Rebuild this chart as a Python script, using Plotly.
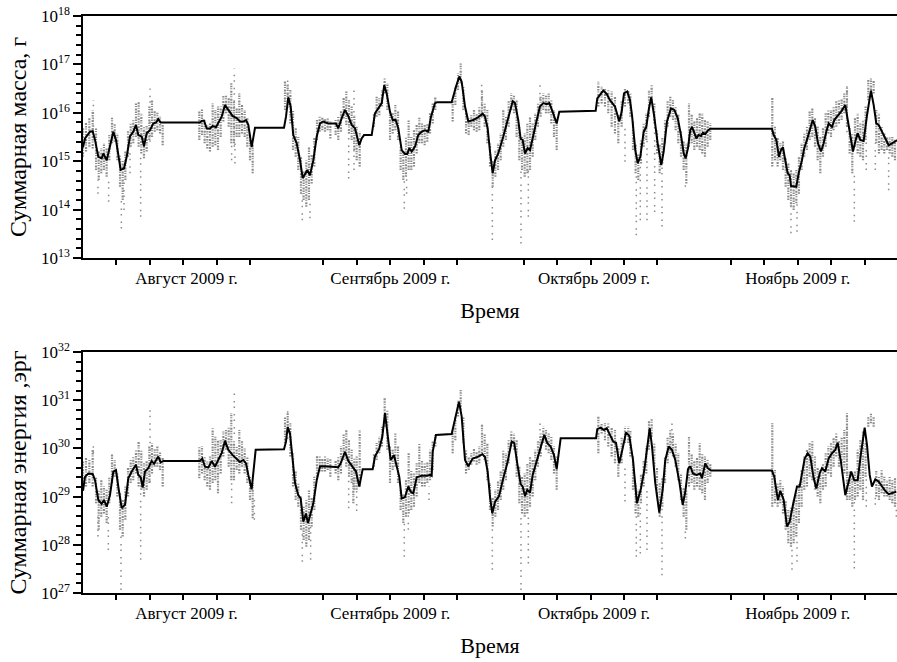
import numpy as np
import pandas as pd
import plotly.graph_objects as go

START = pd.Timestamp("2009-08-01")
X_END_DAYS = 121.86
FONT = "Liberation Serif, Times New Roman, serif"

# ---------------- data (days since 2009-08-01, log10 values) ----------------
mass_line_day = [0.0, 0.30, 1.05, 1.45, 1.80, 2.29, 2.80, 3.04, 3.55, 4.04, 4.54, 4.94, 5.28, 5.64, 6.14, 6.54, 7.04, 7.53, 7.93, 8.28, 8.79, 9.13, 9.54, 10.03, 10.52, 10.93, 11.27, 11.63,
                 17.51, 17.77, 18.11, 18.52, 19.01, 19.42, 19.91, 20.40, 20.76, 21.26, 21.75, 22.41, 23.01, 23.50, 24.00, 24.40, 24.75, 25.25, 25.75,
                 30.09, 30.39, 30.73, 31.09, 31.48, 31.99, 32.49, 32.89, 33.23, 33.58, 33.98, 34.48, 34.99, 35.48, 35.97, 36.72, 37.87, 38.22, 38.73, 39.22, 39.72, 40.22, 40.72, 41.36, 41.72, 42.07, 43.22, 43.71, 44.21, 44.72, 45.10, 45.46, 45.96, 46.36, 46.81, 47.20, 47.71, 48.20, 48.55, 48.85, 49.21, 49.70, 50.19, 50.70, 51.20, 51.69, 52.10, 52.69, 53.04,
                 55.19, 55.84, 56.33, 56.69, 57.19, 57.68, 58.43, 59.18, 59.84, 60.18, 60.58, 60.93, 61.33, 61.68, 62.17, 62.92, 63.67, 64.33, 64.67, 65.16, 65.52, 65.82, 66.17, 66.57, 66.92, 67.32, 67.81, 68.41, 68.91, 69.42, 69.81, 70.31, 70.91, 71.30,
                 76.75, 76.99, 77.50, 77.89, 78.40, 78.89, 79.64, 80.28, 80.64, 80.99, 81.48, 81.89, 82.19, 82.68, 83.04, 83.43, 83.94, 84.33, 84.69, 85.07, 85.52, 86.03, 86.57, 86.93, 87.43, 88.02, 88.52, 89.03, 89.52, 89.93, 90.22, 90.57, 90.91, 91.17, 91.51, 91.81, 92.16, 92.51, 92.81, 93.16, 93.52, 93.91,
                 103.14, 103.40, 103.79, 104.19, 104.49, 104.79, 105.13, 105.49, 105.79, 105.99, 106.78, 107.14, 107.63, 107.98, 108.38, 108.79, 109.24, 109.63, 110.03, 110.48, 110.88, 111.27, 111.63, 112.13, 112.47, 112.87, 113.47, 114.12, 114.52, 114.87, 115.27, 115.61, 115.97, 116.36, 116.87, 117.37, 117.96, 118.37, 118.76, 119.12, 119.61, 120.10, 120.61, 121.11, 121.60, 122.0]
mass_line_log = [15.29, 15.47, 15.61, 15.62, 15.44, 15.09, 15.06, 15.16, 15.02, 15.30, 15.61, 15.44, 15.09, 14.82, 14.85, 15.09, 15.52, 15.61, 15.75, 15.54, 15.51, 15.31, 15.58, 15.64, 15.78, 15.80, 15.87, 15.80,
                 15.80, 15.83, 15.84, 15.68, 15.67, 15.73, 15.70, 15.82, 15.92, 16.16, 16.07, 15.93, 15.89, 15.82, 15.82, 15.85, 15.75, 15.29, 15.69,
                 15.69, 15.92, 16.32, 16.13, 15.54, 15.37, 15.02, 14.65, 14.75, 14.82, 14.71, 15.02, 15.51, 15.78, 15.82, 15.78, 15.78, 15.68, 15.89, 16.06, 15.93, 15.75, 15.68, 15.33, 15.47, 15.54, 15.54, 15.99, 16.09, 16.20, 16.57, 16.40, 16.02, 15.85, 15.85, 15.68, 15.23, 15.15, 15.15, 15.27, 15.20, 15.30, 15.54, 15.61, 15.64, 15.61, 15.92, 16.20, 16.22,
                 16.22, 16.54, 16.75, 16.64, 16.13, 15.82, 15.85, 15.91, 15.98, 15.92, 15.68, 15.20, 14.75, 15.02, 15.16, 15.51, 15.92, 16.24, 16.20, 15.85, 15.46, 15.44, 15.16, 15.27, 15.23, 15.51, 15.78, 16.13, 16.20, 16.18, 16.20, 16.02, 15.78, 16.02,
                 16.04, 16.30, 16.40, 16.46, 16.39, 16.26, 16.13, 15.82, 16.02, 16.40, 16.44, 16.26, 15.95, 15.23, 14.96, 15.09, 15.61, 15.71, 16.06, 16.32, 15.92, 15.37, 14.92, 15.20, 15.82, 16.09, 16.06, 15.89, 15.54, 15.16, 15.06, 15.27, 15.64, 15.71, 15.59, 15.47, 15.54, 15.52, 15.59, 15.56, 15.63, 15.67,
                 15.67, 15.54, 15.44, 15.09, 15.23, 15.29, 15.02, 14.75, 14.71, 14.49, 14.47, 14.75, 15.02, 15.27, 15.44, 15.64, 15.85, 15.71, 15.37, 15.20, 15.37, 15.61, 15.78, 15.71, 15.85, 15.92, 16.02, 16.16, 15.82, 15.47, 15.20, 15.40, 15.58, 15.44, 15.42, 15.95, 16.46, 16.16, 15.78, 15.75, 15.61, 15.47, 15.33, 15.37, 15.40, 15.44]

energy_line_day = [0.0, 0.30, 0.79, 1.45, 1.80, 2.29, 2.80, 3.14, 3.55, 4.04, 4.54, 4.94, 5.28, 5.79, 6.29, 6.78, 7.29, 7.93, 8.28, 8.64, 8.94, 9.28, 9.78, 10.28, 10.63, 11.03, 11.27, 11.63, 12.02,
                   17.51, 17.86, 18.26, 18.76, 19.27, 19.76, 20.25, 20.76, 21.26, 21.75, 22.41, 23.01, 23.50, 24.00, 24.40, 24.75, 25.25, 25.85,
                   30.09, 30.39, 30.64, 30.99, 31.39, 31.74, 32.23, 32.59, 32.98, 33.38, 33.68, 34.09, 34.48, 34.99, 35.48, 36.23, 37.47, 38.22, 38.58, 39.22, 39.72, 40.37, 40.87, 41.36, 41.87, 43.37, 43.71, 44.36, 44.81, 45.21, 45.55, 46.06, 46.56, 46.96, 47.35, 47.71, 48.20, 48.70, 49.06, 49.45, 49.96, 50.70, 51.45, 51.95, 52.20, 52.35, 52.84,
                   55.19, 55.84, 56.29, 56.69, 57.19, 57.68, 58.34, 59.18, 59.78, 60.18, 60.58, 60.93, 61.27, 61.68, 62.28, 62.92, 63.52, 64.18, 64.57, 65.01, 65.52, 65.82, 66.17, 66.51, 66.92, 67.32, 67.92, 68.41, 69.06, 69.51, 70.01, 70.51, 70.91, 71.51,
                   76.80, 76.99, 77.50, 78.00, 78.40, 78.89, 79.39, 79.79, 80.28, 80.79, 81.29, 81.78, 82.34, 82.93, 83.53, 84.03, 84.54, 84.84, 85.18, 85.67, 86.27, 86.78, 87.17, 87.68, 88.17, 88.67, 89.27, 89.78, 90.17, 90.57, 90.91, 91.32, 91.81, 92.41, 92.66, 93.16, 93.52, 94.01,
                   103.14, 103.49, 103.79, 104.04, 104.39, 104.90, 105.39, 105.79, 106.29, 106.89, 107.29, 107.63, 108.04, 108.49, 108.88, 109.39, 109.78, 110.28, 110.63, 111.12, 111.63, 112.13, 112.62, 112.98, 113.47, 114.12, 114.63, 115.01, 115.46, 115.97, 116.47, 117.02, 117.37, 117.77, 118.11, 118.61, 119.12, 119.61, 120.10, 120.61, 121.11, 121.75]
energy_line_log = [29.12, 29.41, 29.48, 29.47, 29.34, 28.93, 28.85, 28.93, 28.79, 29.03, 29.52, 29.55, 29.21, 28.76, 28.83, 29.38, 29.52, 29.66, 29.45, 29.40, 29.19, 29.52, 29.59, 29.74, 29.68, 29.79, 29.83, 29.71, 29.74,
                   29.74, 29.79, 29.62, 29.60, 29.74, 29.62, 29.76, 29.90, 30.16, 29.97, 29.86, 29.79, 29.72, 29.76, 29.69, 29.45, 29.15, 29.97,
                   29.98, 30.14, 30.44, 30.31, 29.69, 29.28, 29.03, 28.96, 28.48, 28.65, 28.45, 28.65, 28.86, 29.34, 29.63, 29.63, 29.61, 29.61, 29.69, 29.93, 29.74, 29.61, 29.52, 29.21, 29.57, 29.57, 29.83, 30.00, 30.24, 30.73, 30.31, 29.76, 29.86, 29.66, 29.41, 28.96, 28.99, 29.21, 29.10, 29.07, 29.40, 29.43, 29.43, 29.45, 29.43, 29.93, 30.28,
                   30.30, 30.66, 30.97, 30.66, 29.76, 29.63, 29.79, 29.83, 29.88, 29.82, 29.52, 29.00, 28.65, 28.89, 29.01, 29.38, 29.69, 30.14, 30.11, 29.69, 29.26, 29.21, 29.01, 29.14, 29.08, 29.45, 29.76, 29.97, 30.28, 30.11, 30.04, 29.86, 29.57, 30.21,
                   30.21, 30.40, 30.43, 30.38, 30.42, 30.28, 30.14, 30.12, 29.69, 30.00, 30.33, 30.26, 29.76, 28.86, 29.17, 29.55, 30.07, 30.42, 30.04, 29.28, 28.67, 29.14, 29.76, 30.04, 29.97, 29.76, 29.31, 28.83, 29.10, 29.57, 29.63, 29.48, 29.45, 29.48, 29.38, 29.69, 29.59, 29.54,
                   29.54, 29.41, 29.14, 28.93, 29.12, 28.93, 28.38, 28.48, 28.83, 29.21, 29.21, 29.48, 29.79, 29.90, 29.83, 29.38, 29.17, 29.48, 29.59, 29.52, 29.79, 29.90, 29.97, 30.12, 29.72, 29.03, 29.34, 29.52, 29.34, 29.34, 29.90, 30.43, 30.07, 29.45, 29.21, 29.36, 29.31, 29.21, 29.12, 29.05, 29.07, 29.10]

# gray scatter clouds: dense core (day, low, high) in log10
mass_cloud_day = [0.0, 0.45, 0.95, 1.45, 1.95, 2.35, 2.74, 3.14, 3.54, 3.94, 4.34, 4.74, 5.14, 5.54, 5.94, 6.34, 6.74, 7.14, 7.53, 7.93, 8.33, 8.73, 9.13, 9.53, 9.93, 10.33, 10.73, 11.13, 11.53, 11.93,
                  17.41, 17.81, 18.21, 18.61, 19.01, 19.41, 19.81, 20.21, 20.61, 21.01, 21.41, 21.81, 22.20, 22.60, 23.00, 23.40, 23.80, 24.20, 24.60, 25.00, 25.40,
                  30.24, 30.64, 31.04, 31.44, 31.84, 32.23, 32.63, 33.03, 33.43, 33.83, 34.23, 34.63, 35.03, 35.43, 35.83, 36.23, 36.63, 37.03, 37.82, 38.22, 38.62, 39.02, 39.42, 39.82, 40.22, 40.62, 40.97, 41.42,
                  43.56, 43.96, 44.36, 44.76, 45.16, 45.56, 45.96, 46.36, 46.76, 47.16, 47.55, 47.95, 48.35, 48.75, 49.15, 49.55, 49.95, 50.35, 50.75, 51.15, 51.55, 51.95, 52.35, 52.74,
                  55.34, 55.74, 56.14, 56.54, 56.94, 57.34, 57.74, 58.13, 58.53, 58.93, 59.33, 59.73, 60.13, 60.53, 60.93, 61.33, 61.73, 62.13, 62.53, 62.92, 63.32, 63.72, 64.12, 64.52, 64.92, 65.32, 65.72, 66.12, 66.52, 66.92, 67.32, 67.71, 68.11, 68.51, 68.91, 69.31, 69.71, 70.11, 70.51, 70.91,
                  77.15, 77.64, 78.14, 78.64, 79.14, 79.64, 80.14, 80.64, 81.14, 81.63, 81.94, 82.34, 82.73, 83.13, 83.53, 83.93, 84.33, 84.73, 85.13, 85.53, 85.93, 86.33, 86.73, 87.13, 87.52, 87.92, 88.32, 88.72, 89.12, 89.52, 89.92, 90.32, 90.72, 91.12, 91.52, 91.92, 92.32, 92.71, 93.11, 93.51, 93.91,
                  103.19, 103.59, 103.99, 104.39, 104.79, 105.19, 105.59, 105.99, 106.39, 106.79, 107.18, 107.58, 107.98, 108.38, 108.78, 109.18, 109.58, 109.98, 110.38, 110.78, 111.18, 111.58, 111.98, 112.37, 112.77, 113.17, 113.57, 113.97, 114.37, 114.77, 115.17, 115.57, 115.97, 116.37, 116.77, 117.16, 117.56, 117.96, 118.36, 118.76, 119.16, 119.56, 119.96, 120.36, 120.76, 121.16, 121.56]
mass_cloud_lo = [15.09, 15.20, 15.30, 15.26, 14.82, 14.61, 14.75, 14.82, 14.68, 15.02, 15.37, 15.40, 15.02, 14.47, 14.20, 14.61, 15.09, 15.30, 15.37, 15.50, 15.30, 15.16, 15.06, 15.20, 15.44, 15.50, 15.61, 15.64, 15.57, 15.33,
                 15.44, 15.54, 15.37, 15.26, 15.20, 15.30, 15.33, 15.23, 15.50, 15.82, 15.99, 15.71, 15.37, 15.37, 15.50, 15.50, 15.57, 15.50, 15.30, 15.02, 14.75,
                 16.06, 16.16, 15.78, 15.23, 15.09, 14.82, 14.33, 14.20, 14.06, 14.20, 14.54, 14.89, 15.44, 15.61, 15.64, 15.61, 15.64, 15.47, 15.54, 15.44, 15.61, 15.88, 15.75, 15.57, 15.44, 15.23, 15.02, 14.89,
                 15.71, 15.92, 15.95, 16.13, 16.40, 16.06, 15.44, 15.57, 15.64, 15.44, 14.82, 14.61, 14.68, 14.82, 14.82, 14.89, 15.16, 15.37, 15.37, 15.33, 15.40, 15.57, 15.78, 16.06,
                 15.82, 16.16, 16.47, 16.61, 16.06, 15.57, 15.54, 15.71, 15.64, 15.61, 15.64, 15.92, 15.71, 15.37, 14.89, 14.47, 14.68, 14.82, 15.02, 15.30, 15.44, 15.71, 16.06, 15.99, 15.50, 15.02, 14.82, 14.68, 14.75, 14.82, 15.09, 15.44, 15.71, 15.92, 16.06, 15.99, 15.99, 15.78, 15.50, 15.23,
                 16.13, 16.19, 16.13, 15.99, 15.71, 15.57, 15.37, 15.71, 16.13, 16.19, 15.92, 15.23, 14.75, 14.61, 14.95, 15.30, 15.44, 15.92, 16.26, 15.78, 15.16, 14.75, 14.95, 15.37, 15.71, 15.92, 15.85, 15.64, 15.37, 15.09, 14.82, 14.54, 15.30, 15.37, 15.23, 15.30, 15.23, 15.16, 15.09, 15.30, 15.44,
                 14.89, 15.02, 14.89, 15.02, 14.82, 14.47, 14.20, 14.06, 13.99, 14.13, 14.33, 14.82, 15.09, 15.23, 15.44, 15.50, 15.30, 15.02, 14.75, 15.09, 15.30, 15.57, 15.50, 15.64, 15.71, 15.78, 15.85, 15.99, 15.71, 15.16, 14.75, 15.30, 15.16, 15.09, 15.02, 15.44, 16.26, 16.47, 16.40, 15.37, 15.16, 15.23, 15.16, 15.23, 15.16, 15.09, 15.02]
mass_cloud_hi = [15.71, 15.82, 15.92, 16.06, 15.68, 15.23, 15.26, 15.37, 15.26, 15.54, 15.92, 15.78, 15.57, 15.13, 15.02, 15.23, 15.64, 15.78, 15.85, 16.19, 16.23, 15.99, 15.71, 15.75, 16.13, 16.26, 16.06, 16.02, 15.92, 15.75,
                 16.06, 16.09, 15.85, 15.75, 15.78, 16.19, 16.06, 16.13, 16.13, 16.37, 16.37, 16.33, 16.61, 16.26, 16.09, 16.40, 16.19, 16.06, 15.92, 15.57, 15.37,
                 16.68, 16.61, 16.47, 16.06, 15.71, 15.50, 15.09, 14.82, 15.02, 15.30, 15.16, 15.50, 15.85, 15.92, 15.92, 15.88, 15.88, 15.82, 15.85, 15.92, 16.06, 16.33, 16.44, 16.26, 16.13, 15.95, 15.71, 15.61,
                 15.99, 16.33, 16.30, 16.47, 16.71, 16.61, 16.06, 15.99, 16.16, 16.06, 15.30, 15.23, 15.50, 15.85, 15.50, 15.64, 15.78, 15.92, 15.78, 15.75, 15.78, 15.99, 16.19, 16.33,
                 16.26, 16.54, 16.81, 17.02, 16.54, 16.06, 15.88, 15.95, 16.06, 15.99, 16.13, 16.47, 16.19, 16.06, 15.37, 15.02, 15.23, 15.37, 15.57, 16.06, 15.92, 16.26, 16.40, 16.37, 16.26, 15.71, 15.50, 15.57, 15.78, 15.92, 15.78, 15.99, 16.19, 16.33, 16.40, 16.37, 16.40, 16.26, 16.06, 15.85,
                 16.64, 16.54, 16.50, 16.47, 16.44, 16.33, 15.99, 16.26, 16.50, 16.47, 16.40, 15.85, 15.37, 15.16, 15.44, 15.78, 15.99, 16.47, 16.57, 16.19, 15.64, 15.37, 15.50, 15.85, 16.26, 16.33, 16.26, 16.13, 15.99, 15.64, 15.44, 15.37, 16.19, 15.99, 15.85, 15.92, 15.99, 15.99, 15.85, 15.82, 15.78,
                 16.33, 15.71, 15.50, 15.37, 15.44, 15.09, 14.95, 14.82, 14.75, 14.82, 15.09, 15.37, 15.57, 15.71, 16.06, 16.09, 15.92, 15.71, 15.50, 15.71, 15.99, 16.06, 16.06, 16.13, 16.26, 16.26, 16.30, 16.40, 16.54, 15.71, 15.57, 15.92, 15.99, 15.78, 15.85, 16.13, 16.68, 16.71, 16.68, 16.06, 15.99, 15.71, 15.57, 15.50, 15.50, 15.50, 15.47]

# sparse tails of the gray scatter (day, low, high) in log10
mass_tail_day = [1.55, 2.24, 3.84, 5.74, 6.14, 7.04, 8.63, 10.03, 22.25, 22.65, 22.75, 30.64, 32.83, 33.98, 39.77, 40.57, 48.10, 48.45, 59.68, 61.28, 65.57, 66.67, 68.41, 81.14, 82.83, 83.43, 84.43, 85.58, 86.68, 90.17, 105.99, 106.89, 114.37, 115.47, 117.26, 118.61, 120.61]
mass_tail_lo = [15.60, 14.33, 14.16, 13.61, 13.99, 14.75, 13.85, 15.40, 15.02, 15.30, 14.95, 16.10, 13.78, 13.82, 14.64, 14.82, 14.02, 14.33, 15.90, 13.37, 13.30, 13.85, 16.00, 14.99, 13.47, 13.78, 13.78, 13.95, 13.65, 14.47, 13.51, 13.54, 15.60, 13.75, 14.82, 14.82, 14.40]
mass_tail_hi = [16.26, 14.61, 14.68, 14.20, 14.61, 15.30, 15.16, 16.50, 15.37, 16.92, 15.37, 16.75, 14.33, 14.20, 15.57, 16.47, 14.61, 14.68, 16.61, 14.47, 14.82, 14.82, 16.57, 15.71, 14.75, 14.95, 15.44, 15.78, 14.95, 14.54, 14.06, 14.13, 16.57, 14.75, 15.44, 15.37, 15.16]

energy_cloud_day = mass_cloud_day[:78] + [40.47] + mass_cloud_day[78:]
energy_cloud_lo = [29.14, 29.21, 29.28, 29.21, 28.86, 28.31, 28.58, 28.65, 28.45, 28.86, 29.28, 29.41, 29.00, 28.31, 28.17, 28.52, 29.00, 29.28, 29.34, 29.48, 29.21, 29.14, 29.00, 29.14, 29.28, 29.48, 29.62, 29.62, 29.55, 29.21,
                   29.38, 29.48, 29.34, 29.21, 29.14, 29.28, 29.34, 29.07, 29.48, 29.83, 29.97, 29.62, 29.34, 29.34, 29.55, 29.48, 29.62, 29.48, 29.28, 28.93, 28.55,
                   30.11, 30.31, 29.83, 29.21, 28.93, 28.79, 28.31, 28.10, 27.96, 28.10, 28.38, 28.72, 29.41, 29.52, 29.52, 29.52, 29.55, 29.41, 29.48, 29.34, 29.48, 29.76, 29.62, 29.41, 29.28, 29.14, 29.14, 28.86,
                   29.21,
                   29.62, 29.76, 29.90, 30.04, 30.45, 29.97, 29.28, 29.55, 29.62, 29.28, 28.72, 28.45, 28.58, 28.65, 28.72, 28.79, 29.00, 29.28, 29.21, 29.21, 29.28, 29.34, 29.55, 30.04,
                   29.90, 30.17, 30.66, 30.80, 30.11, 29.48, 29.55, 29.66, 29.73, 29.66, 29.69, 29.90, 29.76, 29.34, 28.72, 28.38, 28.58, 28.72, 28.93, 29.14, 29.34, 29.69, 30.04, 29.97, 29.41, 28.86, 28.65, 28.58, 28.65, 28.79, 29.00, 29.34, 29.62, 29.83, 30.11, 29.97, 29.90, 29.76, 29.48, 29.14,
                   29.90, 30.31, 30.17, 30.04, 29.83, 29.69, 29.41, 29.69, 30.11, 30.11, 29.83, 29.14, 28.65, 28.58, 28.86, 29.21, 29.48, 29.97, 30.24, 29.62, 29.00, 28.58, 28.79, 29.28, 29.69, 29.90, 29.83, 29.62, 29.34, 28.93, 28.58, 28.31, 29.21, 29.28, 29.14, 29.21, 29.14, 29.07, 28.93, 29.28, 29.41,
                   28.79, 28.86, 28.79, 28.86, 28.65, 28.31, 28.03, 27.96, 28.03, 28.17, 28.45, 28.79, 29.14, 29.21, 29.41, 29.34, 29.14, 29.00, 28.86, 29.14, 29.21, 29.48, 29.41, 29.62, 29.83, 29.62, 29.69, 29.48, 28.93, 28.93, 28.79, 28.93, 29.00, 29.14, 28.93, 29.41, 30.45, 30.52, 30.45, 29.00, 28.93, 29.07, 29.00, 29.00, 28.93, 28.86, 28.79]
energy_cloud_hi = [29.73, 29.83, 29.76, 29.97, 29.41, 29.14, 29.34, 29.21, 29.14, 29.41, 29.90, 29.76, 29.48, 29.07, 28.93, 29.21, 29.62, 29.76, 29.83, 29.97, 30.14, 29.97, 29.69, 29.76, 30.04, 30.11, 30.00, 30.04, 29.93, 29.83,
                   30.04, 30.04, 29.83, 29.73, 29.83, 30.42, 30.24, 30.17, 30.17, 30.35, 30.38, 30.45, 30.73, 30.17, 30.04, 30.38, 30.17, 30.00, 29.83, 29.41, 29.28,
                   30.66, 30.73, 30.52, 29.90, 29.55, 29.28, 29.00, 28.79, 28.93, 29.14, 29.00, 29.41, 29.86, 29.83, 29.79, 29.83, 29.79, 29.79, 29.76, 29.83, 30.04, 30.31, 30.38, 30.17, 29.97, 29.79, 29.83, 29.41,
                   30.38,
                   29.90, 30.11, 30.24, 30.45, 31.04, 30.80, 30.04, 29.97, 30.31, 30.04, 29.14, 29.07, 29.34, 29.90, 29.55, 29.48, 29.69, 30.11, 29.76, 29.69, 29.73, 29.97, 30.17, 30.28,
                   30.38, 30.66, 31.00, 31.21, 30.66, 29.97, 29.83, 29.90, 30.00, 29.93, 30.04, 30.52, 30.31, 30.11, 29.28, 29.00, 29.14, 29.34, 29.55, 29.97, 29.90, 30.17, 30.35, 30.31, 30.17, 29.62, 29.41, 29.48, 29.69, 29.83, 29.76, 29.97, 30.17, 30.31, 30.45, 30.38, 30.31, 30.24, 30.04, 29.83,
                   30.66, 30.52, 30.52, 30.52, 30.45, 30.38, 30.04, 30.24, 30.45, 30.45, 30.38, 29.83, 29.28, 29.14, 29.48, 29.76, 30.04, 30.59, 30.62, 30.11, 29.62, 29.28, 29.41, 29.83, 30.24, 30.38, 30.31, 30.11, 29.90, 29.48, 29.21, 29.14, 30.24, 29.90, 29.76, 29.83, 30.11, 29.90, 29.83, 29.76, 29.69,
                   30.52, 29.55, 29.28, 29.34, 29.21, 28.93, 28.72, 28.79, 28.93, 29.07, 29.28, 29.55, 29.83, 29.97, 30.11, 30.17, 29.83, 29.62, 29.55, 29.69, 29.90, 30.04, 30.11, 30.24, 30.31, 30.17, 30.24, 30.38, 30.73, 29.55, 29.48, 29.55, 29.97, 30.17, 30.38, 30.11, 30.66, 30.73, 30.66, 29.55, 29.41, 29.55, 29.41, 29.34, 29.41, 29.34, 29.41]

energy_tail_day = [1.55, 2.24, 3.79, 5.69, 8.63, 10.03, 22.25, 22.65, 25.65, 30.64, 32.83, 34.08, 39.77, 40.97, 48.10, 48.70, 51.80, 61.28, 65.57, 66.67, 68.41, 81.14, 82.83, 83.43, 84.43, 86.68, 88.17, 90.17, 106.14, 106.89, 114.37, 115.47, 117.26, 118.61, 121.76]
energy_tail_lo = [29.90, 28.17, 27.89, 27.06, 27.69, 29.30, 28.86, 30.30, 28.52, 30.20, 27.65, 27.69, 28.76, 28.70, 27.75, 28.31, 28.93, 27.48, 27.06, 27.61, 30.10, 28.90, 27.75, 27.82, 27.89, 27.37, 30.10, 28.13, 27.48, 27.65, 29.20, 27.51, 28.79, 28.83, 28.58]
energy_tail_hi = [30.14, 28.65, 28.58, 28.17, 29.14, 30.87, 29.34, 31.21, 28.93, 30.83, 28.31, 28.38, 29.41, 29.14, 28.45, 28.65, 29.21, 28.38, 28.65, 28.65, 30.59, 29.69, 28.65, 28.86, 29.21, 28.79, 30.52, 28.31, 27.96, 28.17, 30.80, 28.93, 29.41, 29.00, 28.86]

month_starts = ["2009-08-01", "2009-09-01", "2009-10-01", "2009-11-01", "2009-12-01"]
month_mids = ["2009-08-16 12:00", "2009-09-16", "2009-10-16 12:00", "2009-11-16"]
month_labels = ["Август 2009 г.", "Сентябрь 2009 г.", "Октябрь 2009 г.", "Ноябрь 2009 г."]
minor_days_of_month = [6, 11, 16, 21, 26]

mass_decades = [13, 14, 15, 16, 17, 18]
energy_decades = [27, 28, 29, 30, 31, 32]


# ---------------- helpers ----------------
def to_dates(days):
    return list((START + pd.to_timedelta(np.asarray(days, dtype=float), unit="D")).to_pydatetime())


def segments(days, lo, hi):
    xs, ys = [], []
    for d, a, b in zip(to_dates(days), lo, hi):
        xs += [d, d, None]
        ys += [10.0 ** a, 10.0 ** b, None]
    return xs, ys


fig = go.Figure()

panels = [
    ("x", "y", mass_line_day, mass_line_log, mass_cloud_day, mass_cloud_lo, mass_cloud_hi,
     mass_tail_day, mass_tail_lo, mass_tail_hi),
    ("x2", "y2", energy_line_day, energy_line_log, energy_cloud_day, energy_cloud_lo, energy_cloud_hi,
     energy_tail_day, energy_tail_lo, energy_tail_hi),
]
for xa, ya, ld, ll, cd, clo, chi, td, tlo, thi in panels:
    sx, sy = segments(td, tlo, thi)
    fig.add_trace(go.Scatter(x=sx, y=sy, mode="lines", xaxis=xa, yaxis=ya, showlegend=False,
                             line=dict(color="#8c8c8c", width=1.5, dash="1.5px,4px,1.5px,6px"), hoverinfo="skip"))
    sx, sy = segments(cd, clo, chi)
    fig.add_trace(go.Scatter(x=sx, y=sy, mode="lines", xaxis=xa, yaxis=ya, showlegend=False,
                             line=dict(color="#8c8c8c", width=2.2, dash="1.5px,1px,2px,1.5px,1px,1px"),
                             hoverinfo="skip"))
    fig.add_trace(go.Scatter(x=to_dates(ld), y=[10.0 ** v for v in ll], mode="lines", xaxis=xa, yaxis=ya,
                             showlegend=False, line=dict(color="black", width=2)))

minor_ticks = [f"2009-{m:02d}-{d:02d}" for m in (8, 9, 10, 11) for d in minor_days_of_month]
x_range = [START, START + pd.Timedelta(days=X_END_DAYS)]

H = 662
T, B = 16, 69
ph = H - T - B
top_dom = [(593 - 258) / ph, 1.0]
bot_dom = [0.0, (593 - 352) / ph]

tick_font = dict(family=FONT, size=17, color="black")


def xaxis_cfg(anchor, title):
    return dict(
        type="date", range=x_range, anchor=anchor, domain=[0, 1],
        tickmode="array", tickvals=month_mids, ticktext=month_labels,
        ticks="outside", ticklen=0, ticklabelstandoff=4, tickfont=tick_font,
        minor=dict(tickmode="array", tickvals=minor_ticks, ticks="outside", ticklen=5,
                   tickwidth=1.5, tickcolor="black"),
        showline=True, linewidth=1.5, linecolor="black", mirror=True,
        showgrid=False, zeroline=False,
        title=dict(text=title, font=dict(family=FONT, size=22, color="black"), standoff=15),
    )


def month_tick_cfg(overlay, anchor):
    return dict(
        type="date", range=x_range, overlaying=overlay, anchor=anchor,
        tickmode="array", tickvals=month_starts,
        ticks="outside", ticklen=8, tickwidth=1.5, tickcolor="black",
        showline=False, showgrid=False, zeroline=False, showticklabels=False,
    )


def yaxis_cfg(anchor, dom, decades, title):
    minor_vals = [10.0 ** (d + k * 0.2) for d in decades[:-1] for k in (1, 2, 3, 4)]
    return dict(
        type="log", range=[decades[0], decades[-1]], anchor=anchor, domain=dom,
        tickmode="array", tickvals=[10.0 ** d for d in decades],
        ticktext=[f"10<sup>{d}</sup>" for d in decades],
        ticks="outside", ticklen=8, tickwidth=1.5, tickcolor="black", tickfont=tick_font,
        minor=dict(tickmode="array", tickvals=minor_vals, ticks="outside", ticklen=5,
                   tickwidth=1.5, tickcolor="black"),
        showline=True, linewidth=1.5, linecolor="black", mirror=False,
        showgrid=False, zeroline=False,
        title=dict(text=title, font=dict(family=FONT, size=24, color="black"), standoff=8),
    )


fig.update_layout(
    width=897, height=H,
    margin=dict(l=83, r=0, t=T, b=B),
    paper_bgcolor="white", plot_bgcolor="white",
    font=dict(family=FONT, color="black"),
    showlegend=False,
    xaxis=xaxis_cfg("y", "Время"),
    yaxis=yaxis_cfg("x", top_dom, mass_decades, "Суммарная масса, г"),
    xaxis2=xaxis_cfg("y2", "Время"),
    yaxis2=yaxis_cfg("x2", bot_dom, energy_decades, "Суммарная энергия ,эрг"),
    xaxis3=month_tick_cfg("x", "y"),
    xaxis4=month_tick_cfg("x2", "y2"),
)

fig.write_html("out.html")
